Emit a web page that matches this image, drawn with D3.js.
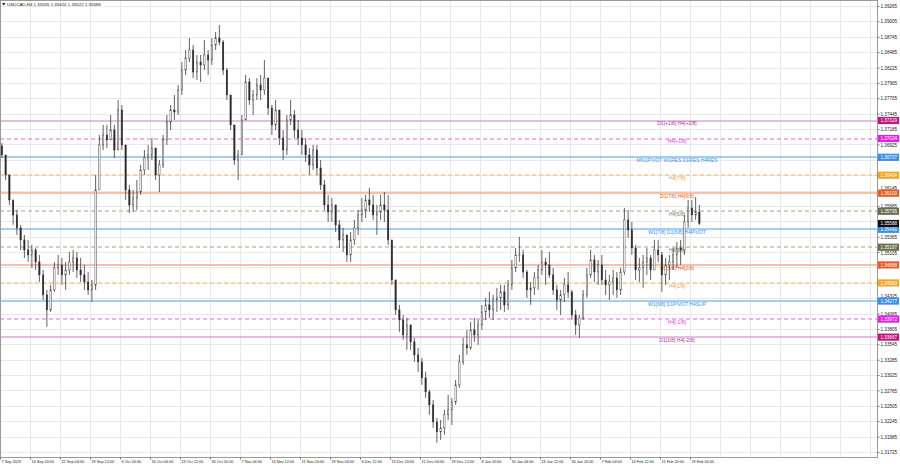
<!DOCTYPE html>
<html><head><meta charset="utf-8">
<script src="https://cdn.jsdelivr.net/npm/d3@7/dist/d3.min.js"></script>
<style>html,body{margin:0;padding:0;background:#fff;overflow:hidden}svg{display:block}</style>
</head><body><svg id="c" width="900" height="468"></svg>
<script>
// ---------- DATA ----------
const symbolTitle = "USDCAD,H4";
const lastOHLC = [1.35535, 1.35620, 1.35522, 1.35588];
const currentPrice = 1.35588;
const firstOpen = 1.36900;

const timeLabels = ["7 Sep 2023","14 Sep 20:00","22 Sep 04:00","29 Sep 12:00","6 Oct 20:00","16 Oct 04:00","23 Oct 12:00","30 Oct 20:00","7 Nov 04:00","14 Nov 12:00","21 Nov 20:00","29 Nov 04:00","6 Dec 12:00","13 Dec 20:00","21 Dec 04:00","29 Dec 12:00","8 Jan 20:00","16 Jan 04:00","23 Jan 12:00","30 Jan 20:00","7 Feb 04:00","14 Feb 12:00","21 Feb 20:00","29 Feb 04:00"];

const priceTicks = [1.39265,1.39005,1.38745,1.38485,1.38225,1.37965,1.37705,1.37445,1.37185,1.36925,1.36665,1.36405,1.36145,1.35885,1.35625,1.35365,1.35105,1.34845,1.34585,1.34325,1.34065,1.33805,1.33545,1.33285,1.33025,1.32765,1.32505,1.32245,1.31985,1.31725];
// tick labels covered by the price boxes in the picture
const coveredTicks = [1.36665,1.36405,1.35625,1.34845,1.34585];

// aggregated candles (4 H4 bars each)
const highs = [
1.36949,1.36747,1.36409,1.35986,1.35817,1.35564,1.35395,1.35310,1.35226,1.35175,
1.35057,1.34803,1.34465,1.34550,1.34938,1.35057,1.35006,1.34938,1.35107,1.35141,
1.35107,1.35006,1.34888,1.34769,1.34634,1.36409,1.37085,1.37254,1.37254,1.37423,
1.37254,1.37676,1.37592,1.36916,1.36240,1.36155,1.36324,1.36578,1.36831,1.36916,
1.37034,1.36865,1.36662,1.37085,1.37423,1.37592,1.37761,1.37930,1.38318,1.38521,
1.38724,1.38606,1.38437,1.38437,1.38690,1.38521,1.38724,1.38825,1.38944,1.38690,
1.38217,1.37761,1.37254,1.36831,1.37423,1.38099,1.38048,1.37845,1.38048,1.38099,
1.38352,1.38014,1.37592,1.37676,1.37507,1.37169,1.37423,1.37676,1.37507,1.37338,
1.37169,1.37034,1.36865,1.36916,1.36916,1.36662,1.36324,1.36071,1.36020,1.35902,
1.35648,1.35513,1.35395,1.35445,1.35648,1.35817,1.36020,1.36071,1.36189,1.36071,
1.35902,1.36071,1.36121,1.36071,1.35310,1.34634,1.34212,1.34043,1.33992,1.33874,
1.33654,1.33485,1.33316,1.33079,1.32775,1.32606,1.32302,1.32268,1.32437,1.32691,
1.32640,1.32944,1.33367,1.33654,1.33789,1.33924,1.33992,1.33958,1.34212,1.34330,
1.34431,1.34381,1.34499,1.34550,1.34550,1.34634,1.34972,1.35175,1.35361,1.35141,
1.34803,1.34600,1.34769,1.34888,1.35141,1.35006,1.35107,1.34837,1.34550,1.34465,
1.34668,1.34769,1.34465,1.34127,1.34043,1.34465,1.34837,1.35141,1.35057,1.34972,
1.35057,1.34803,1.34719,1.34803,1.34769,1.34837,1.35851,1.35817,1.35614,1.35226,
1.35006,1.35057,1.35175,1.35057,1.35310,1.35310,1.35107,1.35006,1.35057,1.35175,
1.35276,1.35310,1.35733,1.35986,1.35986,1.36037,1.35902];
const lows = [
1.36696,1.36324,1.35902,1.35564,1.35395,1.35141,1.35006,1.34938,1.34837,1.34803,
1.34600,1.34296,1.33840,1.34093,1.34431,1.34719,1.34550,1.34465,1.34719,1.34769,
1.34668,1.34600,1.34465,1.34381,1.34262,1.34465,1.36240,1.36831,1.36865,1.37000,
1.36696,1.36831,1.36831,1.35986,1.35766,1.35783,1.35817,1.36071,1.36409,1.36493,
1.36662,1.36324,1.36121,1.36527,1.36916,1.37169,1.37338,1.37423,1.37761,1.38099,
1.38318,1.38048,1.38014,1.37980,1.38183,1.38099,1.38268,1.38521,1.38606,1.38099,
1.37676,1.37169,1.36578,1.36324,1.36747,1.37338,1.37592,1.37423,1.37676,1.37676,
1.37761,1.37423,1.37085,1.37169,1.36916,1.36662,1.36747,1.37254,1.37034,1.36916,
1.36747,1.36628,1.36409,1.36493,1.36409,1.36155,1.35817,1.35614,1.35614,1.35445,
1.35175,1.35107,1.34938,1.34938,1.35226,1.35395,1.35614,1.35682,1.35783,1.35648,
1.35395,1.35648,1.35614,1.35226,1.34550,1.34043,1.33755,1.33620,1.33451,1.33451,
1.33248,1.33079,1.32860,1.32640,1.32353,1.32133,1.31879,1.31930,1.32015,1.32268,
1.32184,1.32522,1.32809,1.33198,1.33367,1.33451,1.33586,1.33536,1.33789,1.33958,
1.33992,1.33958,1.34093,1.34127,1.34093,1.34127,1.34465,1.34769,1.34938,1.34668,
1.34330,1.34212,1.34381,1.34465,1.34719,1.34550,1.34668,1.34381,1.34127,1.34043,
1.34262,1.34330,1.33958,1.33705,1.33654,1.33958,1.34330,1.34668,1.34600,1.34550,
1.34550,1.34381,1.34296,1.34381,1.34330,1.34381,1.34719,1.35344,1.35057,1.34634,
1.34600,1.34499,1.34719,1.34634,1.34837,1.34938,1.34431,1.34550,1.34634,1.34803,
1.34837,1.34888,1.35057,1.35513,1.35614,1.35648,1.35564];
const closes = [
1.36747,1.36409,1.35986,1.35733,1.35513,1.35310,1.35141,1.35057,1.35141,1.34938,
1.34719,1.34381,1.34127,1.34465,1.34837,1.34888,1.34719,1.34803,1.34938,1.35006,
1.34803,1.34719,1.34600,1.34465,1.34550,1.36155,1.36916,1.37085,1.37000,1.37169,
1.36831,1.37507,1.36916,1.36155,1.35902,1.36020,1.36121,1.36493,1.36696,1.36747,
1.36865,1.36409,1.36578,1.37000,1.37304,1.37507,1.37473,1.37845,1.38183,1.38386,
1.38521,1.38149,1.38318,1.38268,1.38437,1.38352,1.38606,1.38724,1.38656,1.38183,
1.37761,1.37254,1.36662,1.36747,1.37338,1.37980,1.37676,1.37761,1.37930,1.37845,
1.38048,1.37541,1.37254,1.37507,1.37034,1.36831,1.37338,1.37423,1.37169,1.37034,
1.36916,1.36747,1.36578,1.36831,1.36527,1.36240,1.35902,1.35783,1.35902,1.35564,
1.35310,1.35395,1.35057,1.35310,1.35513,1.35733,1.35817,1.35986,1.35902,1.35733,
1.35783,1.35902,1.35817,1.35310,1.34634,1.34127,1.33958,1.33705,1.33874,1.33586,
1.33367,1.33248,1.32978,1.32741,1.32522,1.32234,1.32065,1.32133,1.32353,1.32437,
1.32572,1.32860,1.33248,1.33536,1.33485,1.33789,1.33705,1.33874,1.34093,1.34212,
1.34127,1.34296,1.34330,1.34431,1.34212,1.34550,1.34837,1.35057,1.35057,1.34769,
1.34465,1.34499,1.34668,1.34803,1.34938,1.34888,1.34719,1.34465,1.34296,1.34381,
1.34550,1.34431,1.34043,1.33874,1.33992,1.34381,1.34719,1.34972,1.34769,1.34888,
1.34634,1.34550,1.34600,1.34668,1.34465,1.34769,1.35648,1.35479,1.35175,1.34803,
1.34837,1.34938,1.35006,1.34803,1.35141,1.35057,1.34719,1.34888,1.34938,1.35057,
1.35175,1.35141,1.35614,1.35851,1.35733,1.35783,1.35588];

const levelPrices = [1.37329,1.37024,1.36707,1.36404,1.36100,1.35795,1.35490,1.35187,1.34888,1.34583,1.34277,1.33972,1.33667];
const levelNames = ["D1[+1/8] H4[+2/8]","H4[+1/8]","MN1PIVOT W1RES D1RES H4RES","H4[7/8]","D1[7/8] H4[6/8]","H4[5/8]","W1[7/8] D1[6/8] H4PIVOT","H4[3/8]","D1[5/8] H4[2/8]","H4[1/8]","W1[6/8] D1PIVOT H4SUP","H4[-1/8]","D1[3/8] H4[-2/8]"];
const levelGroups = ["mvr","mag","blue","orange","ored","olive","blue","olive","ored","orange","blue","mag","mvr"];

// ---------- STYLE ----------
const styles = {
  mvr:    {line:"#dfa6d2", box:"#c2167f", text:"#a8388e", dash:null},
  mag:    {line:"#f096f0", box:"#e61ee6", text:"#de3fde", dash:"4,3"},
  blue:   {line:"#86bdf1", box:"#3b8fe6", text:"#3b8fe6", dash:null},
  orange: {line:"#f7cb88", box:"#f3a52a", text:"#eea22a", dash:"4,3"},
  ored:   {line:"#f3ac88", box:"#e95a26", text:"#e4622e", dash:null},
  olive:  {line:"#c2c2a8", box:"#696d4d", text:"#7b7e5c", dash:"4,3"}
};
const FONT = "'Liberation Sans', Arial, sans-serif";
const plotRight = 877.5, plotBottom = 457.5;
const barsPerCandle = 4, barsPerLabel = 32;

const svg = d3.select("#c");
const x = d3.scaleLinear().domain([0, 960]).range([0, 900]);
const y = d3.scaleLinear().domain([1.31725, 1.39265]).range([452, 6]);
const fmt = d3.format(".5f");

svg.append("rect").attr("width",900).attr("height",468).attr("fill","#fff");

// grid
const gridBars = d3.range(1, 30).map(k => k*barsPerLabel).filter(b => x(b) < plotRight);
svg.append("g").selectAll("line").data(gridBars).join("line")
  .attr("x1", d => Math.round(x(d))+0.5).attr("x2", d => Math.round(x(d))+0.5)
  .attr("y1", 0).attr("y2", plotBottom).attr("stroke","#e8e8e8").attr("stroke-width",1);
svg.append("g").selectAll("line").data(priceTicks).join("line")
  .attr("x1", 0).attr("x2", plotRight)
  .attr("y1", d => Math.round(y(d))+0.5).attr("y2", d => Math.round(y(d))+0.5)
  .attr("stroke","#e8e8e8").attr("stroke-width",1);

// levels
const levels = levelPrices.map((p,i) => ({p, name: levelNames[i], st: styles[levelGroups[i]]}));
svg.append("g").selectAll("line").data(levels).join("line")
  .attr("x1",0).attr("x2",plotRight)
  .attr("y1", d => Math.round(y(d.p))).attr("y2", d => Math.round(y(d.p)))
  .attr("stroke", d => d.st.line).attr("stroke-width",1.3)
  .attr("stroke-dasharray", d => d.st.dash);
svg.append("g").selectAll("text").data(levels).join("text")
  .attr("x", 677).attr("y", d => y(d.p)+4.8)
  .attr("text-anchor","middle").attr("font-family",FONT).attr("font-size",5)
  .attr("fill", d => d.st.text).text(d => d.name);

// candles
const candles = closes.map((c,i) => {
  const o = i ? closes[i-1] : firstOpen;
  return {i, o, c, h: Math.max(highs[i], o, c), l: Math.min(lows[i], o, c)};
});
const cx = d => x(d.i*barsPerCandle + barsPerCandle/2);
const cg = svg.append("g");
cg.selectAll("line").data(candles).join("line")
  .attr("x1", cx).attr("x2", cx)
  .attr("y1", d => y(d.h)).attr("y2", d => y(d.l))
  .attr("stroke","#3a3a3a").attr("stroke-width",0.8);
cg.selectAll("rect").data(candles).join("rect")
  .attr("x", d => cx(d)-0.7).attr("width",1.4)
  .attr("y", d => y(Math.max(d.o,d.c)))
  .attr("height", d => Math.max(0.6, Math.abs(y(d.o)-y(d.c))))
  .attr("fill", d => d.c >= d.o ? "#fff" : "#2a2a2a")
  .attr("stroke","#2a2a2a").attr("stroke-width",0.4);

// frame
svg.append("rect").attr("x",0.5).attr("y",0.5).attr("width",plotRight-0.5).attr("height",plotBottom-0.5)
  .attr("fill","none").attr("stroke","#9a9a9a").attr("stroke-width",1);

// price axis
const boxes = levels.map(d => ({p:d.p, fill:d.st.box})).concat([{p:currentPrice, fill:"#111"}]);
const ay = svg.append("g").attr("transform",`translate(${plotRight},0)`)
  .call(d3.axisRight(y).tickValues(priceTicks).tickSize(2).tickPadding(1)
        .tickFormat(d => coveredTicks.includes(d) ? "" : fmt(d)));
ay.select(".domain").remove();
ay.selectAll("line").attr("stroke","#777");
ay.selectAll("text").attr("font-family",FONT).attr("font-size",4.6).attr("fill","#222")
  .attr("dy", d => {
    const ty = y(d);
    let off = 0;
    boxes.forEach(b => { const diff = ty - y(b.p); if (Math.abs(diff) < 5.4) off = (diff >= 0 ? 1 : -1) * (5.4 - Math.abs(diff)); });
    return (off + 1.6) + "px";
  });

// price boxes
const bg = svg.append("g").selectAll("g").data(boxes).join("g")
  .attr("transform", d => `translate(${plotRight+0.5},${y(d.p)})`);
bg.append("rect").attr("x",0).attr("y",-3.6).attr("width",21).attr("height",7.2).attr("fill",d=>d.fill);
bg.append("text").attr("x",2.4).attr("y",1.6).attr("font-family",FONT).attr("font-size",4.6)
  .attr("fill","#fff").text(d => fmt(d.p));

// time axis
const labelBars = timeLabels.map((_,i) => i*barsPerLabel);
const ax = svg.append("g").attr("transform",`translate(0,${plotBottom})`)
  .call(d3.axisBottom(x).tickValues(labelBars).tickSize(2).tickPadding(1).tickFormat((d,i) => timeLabels[i]));
ax.select(".domain").remove();
ax.selectAll("line").attr("stroke","#777");
ax.selectAll("text").attr("text-anchor","start").attr("x",1)
  .attr("font-family",FONT).attr("font-size",3.8).attr("fill","#222");

// title
svg.append("path").attr("d","M2,3 L5.5,3 L3.75,5.5 Z").attr("fill","#222");
svg.append("text").attr("x",7).attr("y",6.3).attr("font-family",FONT).attr("font-size",4.4).attr("fill","#222")
  .text(symbolTitle + "  " + lastOHLC.map(fmt).join(" "));
</script>
</body></html>
